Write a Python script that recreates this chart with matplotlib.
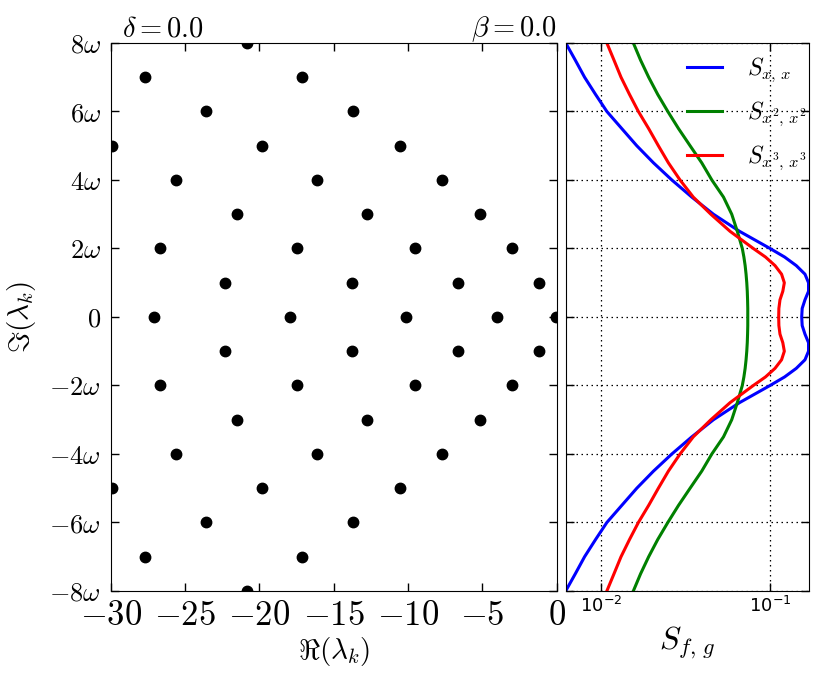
import numpy as np
import matplotlib
matplotlib.use("Agg")
import matplotlib.pyplot as plt
from matplotlib.ticker import FixedLocator, NullLocator

plt.rcParams["mathtext.fontset"] = "cm"
plt.rcParams["font.family"] = "DejaVu Sans"

# Valeurs propres lambda_k (partie reelle, partie imaginaire en unites de omega)
re_lam = [-20.8,
          -27.7, -17.1,
          -23.6, -13.7,
          -29.9, -19.8, -10.55,
          -25.6, -16.1, -7.7,
          -21.5, -12.75, -5.15,
          -26.7, -17.5, -9.55, -3.0,
          -22.3, -13.75, -6.65, -1.2,
          -27.1, -17.95, -10.15, -4.0, -0.05,
          -22.3, -13.75, -6.65, -1.2,
          -26.7, -17.5, -9.55, -3.0,
          -21.5, -12.75, -5.15,
          -25.6, -16.1, -7.7,
          -29.9, -19.8, -10.55,
          -23.6, -13.7,
          -27.7, -17.1,
          -20.8]
im_lam = [8,
          7, 7,
          6, 6,
          5, 5, 5,
          4, 4, 4,
          3, 3, 3,
          2, 2, 2, 2,
          1, 1, 1, 1,
          0, 0, 0, 0, 0,
          -1, -1, -1, -1,
          -2, -2, -2, -2,
          -3, -3, -3,
          -4, -4, -4,
          -5, -5, -5,
          -6, -6,
          -7, -7,
          -8]

# Spectres S_{f,g} en fonction de Im (en omega)
y_freq = [8, 7.5, 7, 6.5, 6, 5.5, 5, 4.5, 4, 3.5, 3, 2.5, 2, 1.75, 1.5, 1.25,
          1, 0.75, 0.5, 0.25, 0, -0.25, -0.5, -0.75, -1, -1.25, -1.5, -1.75,
          -2, -2.5, -3, -3.5, -4, -4.5, -5, -5.5, -6, -6.5, -7, -7.5, -8]
S_xx = [0.00616, 0.00702, 0.00797, 0.00925, 0.0108, 0.01324, 0.01624, 0.0204,
        0.0262, 0.0344, 0.0462, 0.0660, 0.100, 0.122, 0.143, 0.161,
        0.169, 0.169, 0.161, 0.155, 0.154, 0.155, 0.161, 0.169,
        0.169, 0.161, 0.143, 0.122, 0.100, 0.0660, 0.0462, 0.0344,
        0.0262, 0.0204, 0.01624, 0.01324, 0.0108, 0.00925, 0.00797, 0.00702, 0.00616]
S_x2x2 = [0.0155, 0.0171, 0.0191, 0.0216, 0.0248, 0.0287, 0.0336, 0.0394,
          0.0452, 0.0530, 0.0593, 0.0640, 0.0685, 0.0700, 0.0712, 0.0721,
          0.0728, 0.0733, 0.0736, 0.0738, 0.0738, 0.0738, 0.0736, 0.0733,
          0.0728, 0.0721, 0.0712, 0.0700, 0.0685, 0.0640, 0.0593, 0.0530,
          0.0452, 0.0394, 0.0336, 0.0287, 0.0248, 0.0216, 0.0191, 0.0171, 0.0155]
S_x3x3 = [0.0108, 0.0119, 0.0131, 0.0147, 0.0166, 0.0191, 0.0218, 0.0250,
          0.0293, 0.0351, 0.0446, 0.0580, 0.0796, 0.094, 0.107, 0.117,
          0.1215, 0.119, 0.1145, 0.1128, 0.1125, 0.1128, 0.1145, 0.119,
          0.1215, 0.117, 0.107, 0.094, 0.0796, 0.0580, 0.0446, 0.0351,
          0.0293, 0.0250, 0.0218, 0.0191, 0.0166, 0.0147, 0.0131, 0.0119, 0.0108]

xticks_re = [-30, -25, -20, -15, -10, -5, 0]
yticks_im = [-8, -6, -4, -2, 0, 2, 4, 6, 8]
ylabels_im = [r"$-8\omega$", r"$-6\omega$", r"$-4\omega$", r"$-2\omega$", r"$0$",
              r"$2\omega$", r"$4\omega$", r"$6\omega$", r"$8\omega$"]

fig = plt.figure(figsize=(8.28, 6.8), dpi=100)
ax1 = fig.add_axes([0.1337, 0.1309, 0.5386, 0.8059])
ax2 = fig.add_axes([0.6832, 0.1309, 0.2938, 0.8059], sharey=ax1)

# Panneau gauche : valeurs propres
ax1.plot(re_lam, im_lam, "o", color="k", ms=7.5, mec="k")
ax1.set_xlim(-30, 0)
ax1.set_ylim(-8, 8)
ax1.set_xticks(xticks_re)
ax1.set_xticklabels([r"$%d$" % v for v in xticks_re], fontsize=25)
ax1.set_yticks(yticks_im)
ax1.set_yticklabels(ylabels_im, fontsize=19)
ax1.tick_params(direction="in", top=True, right=True, length=6, width=1)
ax1.tick_params(axis="x", pad=5)
ax1.tick_params(axis="y", pad=7)
ax1.set_xlabel(r"$\Re(\lambda_k)$", fontsize=21, labelpad=2)
ax1.set_ylabel(r"$\Im(\lambda_k)$", fontsize=21)
ax1.yaxis.set_label_coords(-0.163, 0.5)
ax1.text(0.025, 1.012, r"$\delta=0.0$", transform=ax1.transAxes,
         fontsize=20.5, ha="left", va="baseline")
ax1.text(1.0, 1.012, r"$\beta=0.0$", transform=ax1.transAxes,
         fontsize=20.5, ha="right", va="baseline")

# Panneau droit : spectres
ax2.plot(S_xx, y_freq, color="#0000ff", lw=2.2, label=r"$S_{x,\,x}$")
ax2.plot(S_x2x2, y_freq, color="#008000", lw=2.2, label=r"$S_{x^2,\,x^2}$")
ax2.plot(S_x3x3, y_freq, color="#ff0000", lw=2.2, label=r"$S_{x^3,\,x^3}$")
ax2.set_xscale("log")
ax2.set_xlim(0.00616, 0.170)
ax2.xaxis.set_major_locator(FixedLocator([1e-2, 1e-1]))
ax2.xaxis.set_minor_locator(NullLocator())
ax2.set_xticklabels([r"$10^{-2}$", r"$10^{-1}$"], fontsize=13)
for t in ax2.get_xticklabels():
    t.set_math_fontfamily("dejavusans")
ax2.tick_params(direction="in", top=True, right=True, length=6, width=1,
                labelleft=False)
ax2.grid(True, color="k", ls=(0, (1.2, 2.8)), lw=0.9)
ax2.set_xlabel(r"$S_{f,\,g}$", fontsize=23, labelpad=6)
ax2.legend(loc="upper right", bbox_to_anchor=(1.0, 0.982), frameon=False,
           fontsize=17, handlelength=1.5, handletextpad=1.05,
           labelspacing=0.65, borderaxespad=0.0, borderpad=0.1)

fig.savefig("out.png", dpi=100)
